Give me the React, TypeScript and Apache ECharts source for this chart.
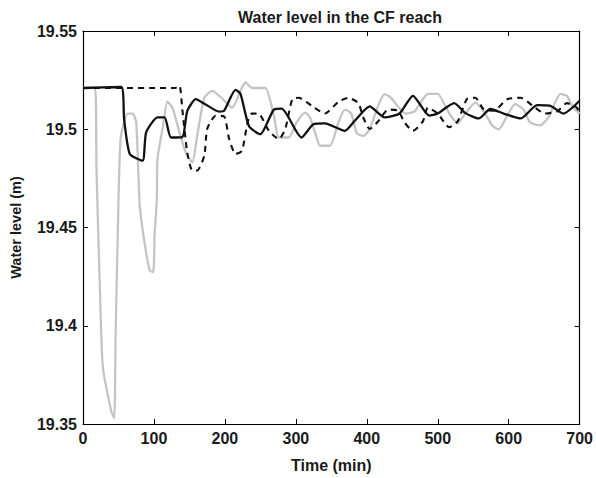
import React, { useEffect, useRef } from "react";
import * as echarts from "echarts";

const title = "Water level in the CF reach";
const xName = "Time (min)";
const yName = "Water level (m)";

const solidT = [0, 54, 58, 66, 84, 89, 105, 115, 124, 140, 147, 159, 171, 192, 199, 215, 222, 234, 250, 269, 280, 308, 325, 341, 369, 383, 404, 425, 446, 465, 488, 500, 523, 539, 558, 574, 593, 617, 640, 658, 677, 700];
const solidV = [19.521, 19.5215, 19.505, 19.4874, 19.484, 19.4984, 19.506, 19.506, 19.4958, 19.496, 19.5094, 19.5153, 19.513, 19.509, 19.5095, 19.52, 19.518, 19.5015, 19.4975, 19.51, 19.5105, 19.4958, 19.5026, 19.503, 19.4992, 19.5043, 19.5116, 19.506, 19.508, 19.517, 19.5069, 19.508, 19.5133, 19.5082, 19.5055, 19.5103, 19.508, 19.5055, 19.5123, 19.512, 19.508, 19.5145];

const dashedT = [0, 130, 136, 140, 147, 154, 161, 171, 175, 187, 199, 206, 215, 224, 232, 238, 248, 262, 276, 285, 295, 304, 323, 341, 360, 374, 388, 395, 404, 416, 430, 444, 453, 465, 479, 486, 500, 516, 528, 542, 553, 565, 579, 598, 617, 637, 651, 668, 682, 696, 700];
const dashedV = [19.521, 19.521, 19.5222, 19.51, 19.488, 19.479, 19.479, 19.4866, 19.5001, 19.5069, 19.5065, 19.495, 19.4874, 19.489, 19.5035, 19.508, 19.5078, 19.4992, 19.495, 19.5, 19.5153, 19.516, 19.5118, 19.508, 19.514, 19.516, 19.5133, 19.506, 19.5001, 19.504, 19.51, 19.5095, 19.5035, 19.4992, 19.504, 19.511, 19.508, 19.501, 19.504, 19.5157, 19.516, 19.51, 19.5095, 19.5153, 19.516, 19.511, 19.508, 19.509, 19.5133, 19.511, 19.5077];

const grayT = [0, 17, 19, 24, 28, 40, 44, 46, 49, 53, 63, 70, 75, 80, 87, 94, 99, 101, 104, 105, 112, 119, 126, 136, 145, 154, 161, 171, 182, 196, 210, 224, 229, 238, 243, 257, 269, 276, 290, 301, 313, 320, 330, 334, 348, 360, 369, 378, 386, 395, 404, 416, 425, 434, 446, 455, 467, 476, 486, 500, 511, 518, 528, 539, 553, 565, 577, 586, 598, 609, 621, 630, 644, 656, 673, 682, 691, 700];
const grayV = [19.521, 19.521, 19.48, 19.4165, 19.379, 19.3563, 19.353, 19.396, 19.447, 19.495, 19.508, 19.508, 19.5035, 19.461, 19.4417, 19.4282, 19.4273, 19.447, 19.4637, 19.4849, 19.5, 19.514, 19.511, 19.4984, 19.488, 19.4831, 19.4967, 19.5161, 19.5195, 19.5157, 19.511, 19.5212, 19.5238, 19.521, 19.521, 19.521, 19.507, 19.4958, 19.4958, 19.5035, 19.5085, 19.506, 19.495, 19.4916, 19.4916, 19.5035, 19.51, 19.508, 19.498, 19.4966, 19.5, 19.512, 19.5179, 19.516, 19.5107, 19.508, 19.509, 19.5136, 19.518, 19.518, 19.5115, 19.507, 19.503, 19.508, 19.5136, 19.509, 19.5018, 19.5, 19.507, 19.5128, 19.51, 19.5035, 19.502, 19.506, 19.518, 19.517, 19.511, 19.508];

const pairs = (t: number[], v: number[]) => t.map((x, i) => [x, v[i]]);

export default function App() {
  const ref = useRef<HTMLDivElement>(null);
  useEffect(() => {
    if (!ref.current) return;
    const chart = echarts.init(ref.current, null, { renderer: "svg" });
    const font = "'Liberation Sans', Arial, Helvetica, sans-serif";
    const txt = "#1a1a1a";
    const axisLine = { show: true, onZero: false, lineStyle: { color: "#000", width: 1.2 } };
    const tick = { show: true, inside: true, length: 5, lineStyle: { color: "#000" } };
    chart.setOption({
      animation: false,
      backgroundColor: "#fff",
      textStyle: { fontFamily: font },
      title: {
        text: title,
        left: 335,
        top: 4,
        textAlign: "center",
        textStyle: { fontSize: 16, fontWeight: "bold", color: txt, fontFamily: font },
      },
      grid: { left: 83, right: 12, top: 31, bottom: 53 },
      xAxis: [
        {
          type: "value",
          min: 0,
          max: 700,
          interval: 100,
          name: xName,
          nameLocation: "middle",
          nameGap: 33,
          nameTextStyle: { fontSize: 16, fontWeight: "bold", color: txt, fontFamily: font },
          axisLine,
          axisTick: tick,
          splitLine: { show: false },
          axisLabel: { fontSize: 16, fontWeight: "bold", color: txt, margin: 6, fontFamily: font },
        },
        {
          type: "value",
          position: "top",
          min: 0,
          max: 700,
          interval: 100,
          axisLine,
          axisTick: tick,
          splitLine: { show: false },
          axisLabel: { show: false },
        },
      ],
      yAxis: [
        {
          type: "value",
          min: 19.35,
          max: 19.55,
          interval: 0.05,
          name: yName,
          nameLocation: "middle",
          nameGap: 60,
          nameTextStyle: { fontSize: 14.5, fontWeight: "bold", color: txt, fontFamily: font },
          axisLine,
          axisTick: tick,
          splitLine: { show: false },
          axisLabel: {
            fontSize: 16,
            fontWeight: "bold",
            color: txt,
            margin: 6,
            fontFamily: font,
            formatter: (v: number) => String(Math.round(v * 100) / 100),
          },
        },
        {
          type: "value",
          position: "right",
          min: 19.35,
          max: 19.55,
          interval: 0.05,
          axisLine,
          axisTick: tick,
          splitLine: { show: false },
          axisLabel: { show: false },
        },
      ],
      series: [
        {
          type: "line",
          data: pairs(grayT, grayV),
          showSymbol: false,
          smooth: 0.2,
          lineStyle: { color: "#c4c4c4", width: 2.3 },
        },
        {
          type: "line",
          data: pairs(dashedT, dashedV),
          showSymbol: false,
          smooth: 0.2,
          lineStyle: { color: "#111", width: 2.1, type: [6, 5] },
        },
        {
          type: "line",
          data: pairs(solidT, solidV),
          showSymbol: false,
          smooth: 0.2,
          lineStyle: { color: "#111", width: 2.3 },
        },
      ],
    });
    return () => chart.dispose();
  }, []);
  return (
    <div
      ref={ref}
      style={{ position: "fixed", left: 0, top: 0, width: 596, height: 478 }}
    />
  );
}
